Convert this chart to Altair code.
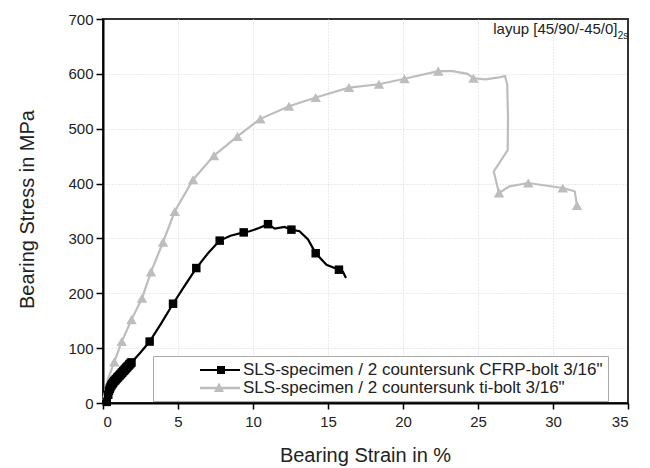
import altair as alt
import pandas as pd

# ---- data ----
series_names = ['SLS-specimen / 2 countersunk CFRP-bolt 3/16"',
                'SLS-specimen / 2 countersunk ti-bolt 3/16"']

cfrp_line_x = [0.22, 0.3, 0.4, 0.5, 0.6, 0.8, 1.0, 1.2, 1.4, 1.6, 1.9, 2.5, 3.11, 3.9, 4.67, 5.45, 6.22, 7.0,
               7.78, 8.5, 9.38, 9.78, 10.4, 11.0, 11.45, 12.1, 12.56, 13.1, 13.67, 14.18, 14.9, 15.73, 16.0, 16.2]
cfrp_line_y = [0, 12, 22, 29, 34, 41, 47, 53, 59, 65, 74, 92, 112, 146, 181, 214, 246, 273,
               296, 305, 311, 313, 319, 326, 318, 321, 316, 313, 298, 273, 252, 243, 239, 228]
cfrp_mark_x = [0.25, 0.35, 0.4, 0.45, 0.5, 0.55, 0.6, 0.65, 0.7, 0.75, 0.8, 0.85, 0.9, 0.95, 1.0, 1.05,
               1.1, 1.15, 1.2, 1.25, 1.3, 1.35, 1.4, 1.45, 1.5, 1.55, 1.6, 1.65, 1.7, 1.75, 1.8, 1.85, 1.9,
               3.11, 4.67, 6.22, 7.78, 9.38, 11.0, 12.56, 14.18, 15.73]
cfrp_mark_y = [2, 15, 22, 26, 29, 32, 34, 36, 38, 40, 41, 43, 44, 46, 47, 49,
               50, 52, 53, 55, 56, 58, 59, 61, 62, 64, 65, 67, 68, 70, 71, 73, 74,
               112, 181, 246, 296, 311, 326, 316, 273, 243]

ti_line_x = [0.0, 0.33, 0.75, 1.25, 1.9, 2.6, 3.2, 4.0, 4.78, 6.0, 7.4, 8.96, 10.49, 12.4, 14.18, 16.4,
             18.4, 20.1, 22.35, 23.3, 24.3, 24.7, 25.5, 26.5, 26.8, 26.95, 27.0, 26.98, 26.05, 26.4,
             27.1, 28.35, 30.65, 31.45, 31.6]
ti_line_y = [5, 43, 75, 112, 152, 191, 239, 293, 349, 407, 451, 486, 518, 541, 557, 575,
             581, 591, 605, 605, 600, 592, 590, 594, 596, 580, 520, 461, 422, 383,
             395, 401, 392, 386, 360]
ti_mark_x = [0.75, 1.25, 1.9, 2.6, 3.2, 4.0, 4.78, 6.0, 7.4, 8.96, 10.49, 12.4, 14.18, 16.4,
             18.4, 20.1, 22.35, 24.7, 26.4, 28.35, 30.65, 31.6]
ti_mark_y = [75, 112, 152, 191, 239, 293, 349, 407, 451, 486, 518, 541, 557, 575,
             581, 591, 605, 592, 383, 401, 392, 360]

x_ticks = [i * 2.5 for i in range(15)]
y_ticks = [i * 50 for i in range(15)]

note_main = "layup [45/90/-45/0]"
note_sub = "2s"

# ---- tables ----
lines = pd.concat([
    pd.DataFrame({"x": cfrp_line_x, "y": cfrp_line_y, "s": series_names[0], "i": range(len(cfrp_line_x))}),
    pd.DataFrame({"x": ti_line_x, "y": ti_line_y, "s": series_names[1], "i": range(len(ti_line_x))}),
])
marks = pd.concat([
    pd.DataFrame({"x": cfrp_mark_x, "y": cfrp_mark_y, "s": series_names[0]}),
    pd.DataFrame({"x": ti_mark_x, "y": ti_mark_y, "s": series_names[1]}),
])
notes_main = pd.DataFrame({"x": [34.3], "y": [673], "t": [note_main]})
notes_sub = pd.DataFrame({"x": [34.32], "y": [664], "t": [note_sub]})

FONT = "Liberation Sans"
BLACK = "#000000"
GRAY = "#bdbdbd"

xscale = alt.Scale(domain=[0, 35], nice=False, zero=False)
yscale = alt.Scale(domain=[0, 700], nice=False)

xaxis = alt.Axis(
    values=x_ticks, title="Bearing Strain in %", labelOverlap=False, labelPadding=5,
    labelExpr="datum.value % 5 === 0 ? format(datum.value, 'd') : ''",
    tickSize={"condition": {"test": "datum.value % 5 === 0", "value": 6}, "value": 4},
    gridOpacity={"condition": {"test": "datum.value % 5 === 0 && datum.value > 0 && datum.value < 35", "value": 1}, "value": 0},
    titleX=262, titleY=52, titleBaseline="middle", titleAlign="center",
)
yaxis = alt.Axis(
    values=y_ticks, title="Bearing Stress in MPa", labelOverlap=False,
    labelExpr="datum.value % 100 === 0 ? format(datum.value, 'd') : ''",
    tickSize={"condition": {"test": "datum.value % 100 === 0", "value": 7}, "value": 4},
    gridOpacity={"condition": {"test": "datum.value % 100 === 0 && datum.value > 0 && datum.value < 700", "value": 1}, "value": 0},
    titleX=-76, titleY=190, titleBaseline="middle", titleAlign="center", titleAngle=-90,
)

# legend symbols: line segment + marker, drawn as filled paths (unit = 9 px)
legend_paths = ["M3.667,-0.111H8.111V0.111H3.667Z M5.556,-0.444H6.444V0.444H5.556Z",
                "M3.667,-0.13H8.111V0.13H3.667Z M5.778,-0.6L6.333,0.45H5.222Z"]

legend = alt.Legend(
    title=None, orient="none", legendX=50, legendY=337, direction="vertical",
    symbolSize=324, symbolStrokeWidth=0, symbolOpacity=1, labelFont=FONT, labelFontSize=17,
    labelColor="#222222", labelOffset=67, padding=5, rowPadding=1,
    strokeColor="#aaaaaa", fillColor="white", labelLimit=650,
)

line_layer = alt.Chart(lines).mark_line(strokeWidth=2.2).encode(
    x=alt.X("x:Q", scale=xscale, axis=xaxis),
    y=alt.Y("y:Q", scale=yscale, axis=yaxis),
    color=alt.Color("s:N", scale=alt.Scale(domain=series_names, range=[BLACK, GRAY]), legend=None),
    order="i:Q",
)

point_layer = alt.Chart(marks).mark_point(filled=True, opacity=1).encode(
    x="x:Q", y="y:Q",
    fill=alt.Fill("s:N", scale=alt.Scale(domain=series_names, range=[BLACK, GRAY]), legend=None),
    shape=alt.Shape("s:N", scale=alt.Scale(domain=series_names, range=["square", "triangle-up"]), legend=None),
    size=alt.Size("s:N", scale=alt.Scale(domain=series_names, range=[72, 110]), legend=None),
)

legend_layer = alt.Chart(marks).transform_filter("false").mark_point(filled=True).encode(
    x="x:Q", y="y:Q",
    fill=alt.Fill("s:N", scale=alt.Scale(domain=series_names, range=[BLACK, GRAY]), legend=legend),
    shape=alt.Shape("s:N", scale=alt.Scale(domain=series_names, range=legend_paths), legend=legend),
)

note_main_layer = alt.Chart(notes_main).mark_text(
    align="right", baseline="alphabetic", font=FONT, fontSize=15, color="#222222"
).encode(x="x:Q", y="y:Q", text="t:N")
note_sub_layer = alt.Chart(notes_sub).mark_text(
    align="left", baseline="alphabetic", font=FONT, fontSize=10, color="#222222"
).encode(x="x:Q", y="y:Q", text="t:N")

chart = alt.layer(line_layer, point_layer, legend_layer, note_main_layer, note_sub_layer).resolve_scale(
    fill="independent", shape="independent", size="independent"
).properties(
    width=525, height=384,
    autosize=alt.AutoSizeParams(type="none"),
    padding={"left": 103, "top": 19, "right": 22, "bottom": 65},
).configure_view(
    stroke="#333333", strokeWidth=2
).configure_axis(
    domainColor=BLACK, domainWidth=2, tickColor=BLACK, tickWidth=1.5,
    labelFont=FONT, labelFontSize=15, labelColor="#222222", labelPadding=3,
    titleFont=FONT, titleFontSize=20, titleFontWeight="normal", titleColor="#222222",
    gridColor="#d6d6d6", gridDash=[1, 2], gridWidth=1,
)

chart.save("out.html", embed_options={"renderer": "svg", "actions": False})
